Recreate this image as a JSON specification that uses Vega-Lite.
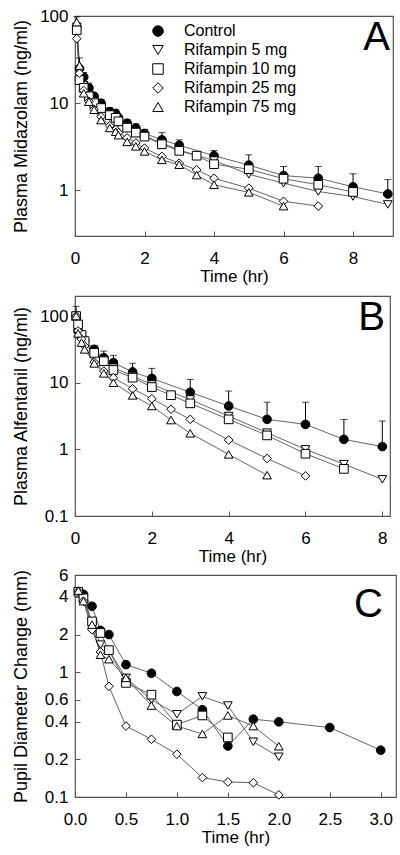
{
"$schema": "https://vega.github.io/schema/vega-lite/v6.json",
"padding": {"left": 11, "top": 6, "right": 0, "bottom": 0},
"config": {
  "font": "Liberation Sans",
  "view": {"stroke": "#555", "strokeWidth": 1.2},
  "style": {"guide-title": {"fontWeight": "normal"}},
  "axis": {"grid": false, "domain": false, "labelFlush": false, "tickSize": -5, "tickColor": "#555", "tickWidth": 1, "labelFontSize": 17, "labelColor": "#000", "titleFontSize": 18, "titleFontWeight": "normal", "titleColor": "#000", "labelFont": "Liberation Sans", "titleFont": "Liberation Sans"},
  "axisY": {"labelPadding": 12, "titlePadding": 9, "titleFontWeight": "normal"},
  "axisX": {"labelPadding": 19, "titlePadding": 2, "titleFontSize": 17, "titleFontWeight": "normal"}
},
"datasets": {
  "A": [
    {"s":"Control","t":0.05,"v":75,"e":98},{"s":"Control","t":0.13,"v":25,"e":33},{"s":"Control","t":0.25,"v":20,"e":22.5},{"s":"Control","t":0.4,"v":15,"e":17},{"s":"Control","t":0.55,"v":12,"e":13},{"s":"Control","t":0.75,"v":10,"e":11},{"s":"Control","t":1,"v":8,"e":8.9},{"s":"Control","t":1.17,"v":7.6,"e":8.5},{"s":"Control","t":1.25,"v":6.8,"e":7.5},{"s":"Control","t":1.5,"v":5.9,"e":6.5},{"s":"Control","t":1.75,"v":5.2,"e":5.8},{"s":"Control","t":2,"v":4.5,"e":5.0},{"s":"Control","t":2.5,"v":3.8,"e":4.6},{"s":"Control","t":3,"v":3.3,"e":3.8},{"s":"Control","t":4,"v":2.5,"e":2.87},{"s":"Control","t":5,"v":1.95,"e":2.56},{"s":"Control","t":6,"v":1.48,"e":1.88},{"s":"Control","t":7,"v":1.38,"e":1.88},{"s":"Control","t":8,"v":1.1,"e":1.55},{"s":"Control","t":9,"v":0.91,"e":1.33},
    {"s":"Rifampin 5 mg","t":0.05,"v":75},{"s":"Rifampin 5 mg","t":0.13,"v":23},{"s":"Rifampin 5 mg","t":0.25,"v":16},{"s":"Rifampin 5 mg","t":0.4,"v":12.5},{"s":"Rifampin 5 mg","t":0.55,"v":10.5},{"s":"Rifampin 5 mg","t":0.75,"v":8.6},{"s":"Rifampin 5 mg","t":1,"v":7.0},{"s":"Rifampin 5 mg","t":1.17,"v":6.5},{"s":"Rifampin 5 mg","t":1.25,"v":6.0},{"s":"Rifampin 5 mg","t":1.5,"v":5.2},{"s":"Rifampin 5 mg","t":1.75,"v":4.7},{"s":"Rifampin 5 mg","t":2,"v":4.2},{"s":"Rifampin 5 mg","t":2.5,"v":3.5},{"s":"Rifampin 5 mg","t":3,"v":2.9},{"s":"Rifampin 5 mg","t":4,"v":2.2},{"s":"Rifampin 5 mg","t":5,"v":1.53},{"s":"Rifampin 5 mg","t":6,"v":1.21},{"s":"Rifampin 5 mg","t":7,"v":0.97},{"s":"Rifampin 5 mg","t":8,"v":0.85},{"s":"Rifampin 5 mg","t":9,"v":0.69},
    {"s":"Rifampin 10 mg","t":0.05,"v":69},{"s":"Rifampin 10 mg","t":0.13,"v":18.4},{"s":"Rifampin 10 mg","t":0.25,"v":15},{"s":"Rifampin 10 mg","t":0.4,"v":12},{"s":"Rifampin 10 mg","t":0.55,"v":10},{"s":"Rifampin 10 mg","t":0.75,"v":8.8},{"s":"Rifampin 10 mg","t":1,"v":7.3},{"s":"Rifampin 10 mg","t":1.17,"v":6.8},{"s":"Rifampin 10 mg","t":1.25,"v":6.2},{"s":"Rifampin 10 mg","t":1.5,"v":5.25},{"s":"Rifampin 10 mg","t":1.75,"v":4.6},{"s":"Rifampin 10 mg","t":2,"v":4.14},{"s":"Rifampin 10 mg","t":2.5,"v":3.38},{"s":"Rifampin 10 mg","t":3,"v":2.84},{"s":"Rifampin 10 mg","t":3.5,"v":2.5},{"s":"Rifampin 10 mg","t":4,"v":2.0},{"s":"Rifampin 10 mg","t":5,"v":1.75},{"s":"Rifampin 10 mg","t":6,"v":1.36},{"s":"Rifampin 10 mg","t":7,"v":1.16},{"s":"Rifampin 10 mg","t":8,"v":0.96},
    {"s":"Rifampin 25 mg","t":0.05,"v":55},{"s":"Rifampin 25 mg","t":0.13,"v":22},{"s":"Rifampin 25 mg","t":0.25,"v":14},{"s":"Rifampin 25 mg","t":0.4,"v":10.5},{"s":"Rifampin 25 mg","t":0.55,"v":8.5},{"s":"Rifampin 25 mg","t":0.75,"v":7.0},{"s":"Rifampin 25 mg","t":1,"v":5.5},{"s":"Rifampin 25 mg","t":1.17,"v":5.0},{"s":"Rifampin 25 mg","t":1.25,"v":4.6},{"s":"Rifampin 25 mg","t":1.5,"v":4.0},{"s":"Rifampin 25 mg","t":1.75,"v":3.5},{"s":"Rifampin 25 mg","t":2,"v":3.05},{"s":"Rifampin 25 mg","t":2.5,"v":2.45},{"s":"Rifampin 25 mg","t":3,"v":2.05},{"s":"Rifampin 25 mg","t":3.5,"v":1.72},{"s":"Rifampin 25 mg","t":4,"v":1.38},{"s":"Rifampin 25 mg","t":5,"v":1.06},{"s":"Rifampin 25 mg","t":6,"v":0.75},{"s":"Rifampin 25 mg","t":7,"v":0.66},
    {"s":"Rifampin 75 mg","t":0.05,"v":85},{"s":"Rifampin 75 mg","t":0.13,"v":27},{"s":"Rifampin 75 mg","t":0.25,"v":13},{"s":"Rifampin 75 mg","t":0.4,"v":10.4},{"s":"Rifampin 75 mg","t":0.55,"v":8.4},{"s":"Rifampin 75 mg","t":0.75,"v":6.4},{"s":"Rifampin 75 mg","t":1,"v":5.2},{"s":"Rifampin 75 mg","t":1.17,"v":4.7},{"s":"Rifampin 75 mg","t":1.25,"v":4.3},{"s":"Rifampin 75 mg","t":1.5,"v":3.6},{"s":"Rifampin 75 mg","t":1.75,"v":3.2},{"s":"Rifampin 75 mg","t":2,"v":2.8},{"s":"Rifampin 75 mg","t":2.5,"v":2.24},{"s":"Rifampin 75 mg","t":3,"v":1.97},{"s":"Rifampin 75 mg","t":3.5,"v":1.5},{"s":"Rifampin 75 mg","t":4,"v":1.16},{"s":"Rifampin 75 mg","t":5,"v":0.95},{"s":"Rifampin 75 mg","t":6,"v":0.66}
  ],
  "B": [
    {"s":"Control","t":0.03,"v":100,"e":140},{"s":"Control","t":0.08,"v":60},{"s":"Control","t":0.17,"v":50},{"s":"Control","t":0.25,"v":42},{"s":"Control","t":0.5,"v":31.6,"e":36.3},{"s":"Control","t":0.75,"v":23.7,"e":29.8},{"s":"Control","t":1,"v":20,"e":25.7},{"s":"Control","t":1.5,"v":14.5,"e":19.6},{"s":"Control","t":2,"v":11.6,"e":16.4},{"s":"Control","t":3,"v":7.2,"e":11.2},{"s":"Control","t":4,"v":4.47,"e":7.5},{"s":"Control","t":5,"v":2.82,"e":5.1},{"s":"Control","t":6,"v":2.37,"e":5.1},{"s":"Control","t":7,"v":1.41,"e":2.8},{"s":"Control","t":8,"v":1.1,"e":2.66},
    {"s":"Rifampin 5 mg","t":0.03,"v":100},{"s":"Rifampin 5 mg","t":0.08,"v":75},{"s":"Rifampin 5 mg","t":0.17,"v":50},{"s":"Rifampin 5 mg","t":0.25,"v":38},{"s":"Rifampin 5 mg","t":0.5,"v":29},{"s":"Rifampin 5 mg","t":0.75,"v":22},{"s":"Rifampin 5 mg","t":1,"v":16.8},{"s":"Rifampin 5 mg","t":1.5,"v":12.6},{"s":"Rifampin 5 mg","t":2,"v":9.4},{"s":"Rifampin 5 mg","t":3,"v":5.6},{"s":"Rifampin 5 mg","t":4,"v":3.16},{"s":"Rifampin 5 mg","t":5,"v":1.78},{"s":"Rifampin 5 mg","t":6,"v":1.0},{"s":"Rifampin 5 mg","t":7,"v":0.6},{"s":"Rifampin 5 mg","t":8,"v":0.355},
    {"s":"Rifampin 10 mg","t":0.03,"v":100},{"s":"Rifampin 10 mg","t":0.08,"v":75},{"s":"Rifampin 10 mg","t":0.17,"v":52},{"s":"Rifampin 10 mg","t":0.25,"v":42},{"s":"Rifampin 10 mg","t":0.5,"v":28},{"s":"Rifampin 10 mg","t":0.75,"v":21},{"s":"Rifampin 10 mg","t":1,"v":15.5},{"s":"Rifampin 10 mg","t":1.5,"v":11.9},{"s":"Rifampin 10 mg","t":2,"v":8.6},{"s":"Rifampin 10 mg","t":2.5,"v":6.5},{"s":"Rifampin 10 mg","t":3,"v":4.9},{"s":"Rifampin 10 mg","t":4,"v":2.82},{"s":"Rifampin 10 mg","t":5,"v":1.62},{"s":"Rifampin 10 mg","t":6,"v":0.86},{"s":"Rifampin 10 mg","t":7,"v":0.51},
    {"s":"Rifampin 25 mg","t":0.03,"v":100},{"s":"Rifampin 25 mg","t":0.08,"v":60},{"s":"Rifampin 25 mg","t":0.17,"v":45},{"s":"Rifampin 25 mg","t":0.25,"v":35.5},{"s":"Rifampin 25 mg","t":0.5,"v":20.4},{"s":"Rifampin 25 mg","t":0.75,"v":14.9},{"s":"Rifampin 25 mg","t":1,"v":11.9},{"s":"Rifampin 25 mg","t":1.5,"v":8.1},{"s":"Rifampin 25 mg","t":2,"v":5.75},{"s":"Rifampin 25 mg","t":2.5,"v":4.0},{"s":"Rifampin 25 mg","t":3,"v":2.82},{"s":"Rifampin 25 mg","t":4,"v":1.38},{"s":"Rifampin 25 mg","t":5,"v":0.73},{"s":"Rifampin 25 mg","t":6,"v":0.4},
    {"s":"Rifampin 75 mg","t":0.03,"v":100},{"s":"Rifampin 75 mg","t":0.08,"v":55},{"s":"Rifampin 75 mg","t":0.17,"v":40},{"s":"Rifampin 75 mg","t":0.25,"v":31.6},{"s":"Rifampin 75 mg","t":0.5,"v":19.5},{"s":"Rifampin 75 mg","t":0.75,"v":13.8},{"s":"Rifampin 75 mg","t":1,"v":10},{"s":"Rifampin 75 mg","t":1.5,"v":6.45},{"s":"Rifampin 75 mg","t":2,"v":4.47},{"s":"Rifampin 75 mg","t":2.5,"v":2.75},{"s":"Rifampin 75 mg","t":3,"v":1.74},{"s":"Rifampin 75 mg","t":4,"v":0.84},{"s":"Rifampin 75 mg","t":5,"v":0.41}
  ],
  "C": [
    {"s":"Control","t":0.083,"v":4.2},{"s":"Control","t":0.167,"v":3.37},{"s":"Control","t":0.25,"v":2.16},{"s":"Control","t":0.333,"v":2.0},{"s":"Control","t":0.5,"v":1.15},{"s":"Control","t":0.75,"v":0.98},{"s":"Control","t":1,"v":0.7},{"s":"Control","t":1.25,"v":0.5},{"s":"Control","t":1.5,"v":0.256},{"s":"Control","t":1.75,"v":0.42},{"s":"Control","t":2,"v":0.4},{"s":"Control","t":2.5,"v":0.36},{"s":"Control","t":3,"v":0.237},
    {"s":"Rifampin 5 mg","t":0.033,"v":4.4},{"s":"Rifampin 5 mg","t":0.083,"v":3.9},{"s":"Rifampin 5 mg","t":0.167,"v":2.5},{"s":"Rifampin 5 mg","t":0.25,"v":1.66},{"s":"Rifampin 5 mg","t":0.333,"v":1.5},{"s":"Rifampin 5 mg","t":0.5,"v":0.9},{"s":"Rifampin 5 mg","t":0.75,"v":0.6},{"s":"Rifampin 5 mg","t":1,"v":0.46},{"s":"Rifampin 5 mg","t":1.25,"v":0.64},{"s":"Rifampin 5 mg","t":1.5,"v":0.54},{"s":"Rifampin 5 mg","t":1.75,"v":0.277},{"s":"Rifampin 5 mg","t":2,"v":0.21},
    {"s":"Rifampin 10 mg","t":0.033,"v":4.4},{"s":"Rifampin 10 mg","t":0.083,"v":3.9},{"s":"Rifampin 10 mg","t":0.167,"v":2.55},{"s":"Rifampin 10 mg","t":0.25,"v":2.06},{"s":"Rifampin 10 mg","t":0.333,"v":1.5},{"s":"Rifampin 10 mg","t":0.5,"v":0.82},{"s":"Rifampin 10 mg","t":0.75,"v":0.66},{"s":"Rifampin 10 mg","t":1,"v":0.38},{"s":"Rifampin 10 mg","t":1.25,"v":0.45},{"s":"Rifampin 10 mg","t":1.5,"v":0.3},
    {"s":"Rifampin 25 mg","t":0.033,"v":4.45},{"s":"Rifampin 25 mg","t":0.083,"v":3.7},{"s":"Rifampin 25 mg","t":0.167,"v":2.19},{"s":"Rifampin 25 mg","t":0.25,"v":1.45},{"s":"Rifampin 25 mg","t":0.333,"v":0.77},{"s":"Rifampin 25 mg","t":0.5,"v":0.37},{"s":"Rifampin 25 mg","t":0.75,"v":0.29},{"s":"Rifampin 25 mg","t":1,"v":0.22},{"s":"Rifampin 25 mg","t":1.25,"v":0.143},{"s":"Rifampin 25 mg","t":1.5,"v":0.132},{"s":"Rifampin 25 mg","t":1.75,"v":0.13},{"s":"Rifampin 25 mg","t":2,"v":0.104},
    {"s":"Rifampin 75 mg","t":0.033,"v":4.5},{"s":"Rifampin 75 mg","t":0.083,"v":3.7},{"s":"Rifampin 75 mg","t":0.167,"v":2.4},{"s":"Rifampin 75 mg","t":0.25,"v":1.38},{"s":"Rifampin 75 mg","t":0.333,"v":1.27},{"s":"Rifampin 75 mg","t":0.5,"v":0.9},{"s":"Rifampin 75 mg","t":0.75,"v":0.54},{"s":"Rifampin 75 mg","t":1,"v":0.37},{"s":"Rifampin 75 mg","t":1.25,"v":0.32},{"s":"Rifampin 75 mg","t":1.5,"v":0.45},{"s":"Rifampin 75 mg","t":1.75,"v":0.37},{"s":"Rifampin 75 mg","t":2,"v":0.255}
  ],
  "LA": [{"t":9.15,"v":100,"L":"A"}],
  "LB": [{"t":8.2,"v":200,"L":"B"}],
  "LC": [{"t":3.15,"v":6,"L":"C"}]
},
"spacing": 10,
"vconcat": [
  {
    "width": 318, "height": 220,
    "data": {"name": "A"},
    "encoding": {
      "x": {"field": "t", "type": "quantitative", "scale": {"domain": [0, 9.15], "nice": false, "zero": false}, "axis": {"values": [0, 2, 4, 6, 8], "title": "Time (hr)", "titleFontWeight": "normal", "labelFlush": false}},
      "y": {"field": "v", "type": "quantitative", "scale": {"type": "log", "domain": [0.3, 100], "nice": false}, "axis": {"values": [1, 10, 100], "format": "~g", "title": "Plasma Midazolam (ng/ml)", "titleFontWeight": "normal", "labelFlush": false, "minExtent": 36, "maxExtent": 36}}
    },
    "layer": [
      {"mark": {"type": "line", "color": "#555", "strokeWidth": 0.9}, "encoding": {"detail": {"field": "s"}}},
      {"transform": [{"filter": "datum.e != null"}], "mark": {"type": "rule", "color": "#000", "strokeWidth": 1}, "encoding": {"y2": {"field": "e"}}},
      {"transform": [{"filter": "datum.e != null"}], "mark": {"type": "tick", "orient": "horizontal", "color": "#000", "size": 7, "thickness": 1}, "encoding": {"y": {"field": "e", "type": "quantitative", "title": "Plasma Midazolam (ng/ml)"}}},
      {"mark": {"type": "point", "filled": true, "strokeWidth": 1, "size": 75, "opacity": 1},
       "encoding": {
         "shape": {"field": "s", "type": "nominal", "scale": {"domain": ["Control", "Rifampin 5 mg", "Rifampin 10 mg", "Rifampin 25 mg", "Rifampin 75 mg"], "range": ["circle", "triangle-down", "square", "diamond", "triangle-up"]},
           "legend": {"title": null, "orient": "none", "legendX": 75, "legendY": 7, "labelFontSize": 16, "labelColor": "#000", "symbolSize": 110, "symbolStrokeWidth": 1, "labelOffset": 18, "rowPadding": 3}},
         "fill": {"field": "s", "type": "nominal", "scale": {"domain": ["Control", "Rifampin 5 mg", "Rifampin 10 mg", "Rifampin 25 mg", "Rifampin 75 mg"], "range": ["#000", "#fff", "#fff", "#fff", "#fff"]},
           "legend": {"title": null, "orient": "none", "legendX": 75, "legendY": 7, "labelFontSize": 16, "labelColor": "#000", "symbolSize": 110, "symbolStrokeWidth": 1, "labelOffset": 18, "rowPadding": 3}},
         "stroke": {"field": "s", "type": "nominal", "scale": {"domain": ["Control", "Rifampin 5 mg", "Rifampin 10 mg", "Rifampin 25 mg", "Rifampin 75 mg"], "range": ["#000", "#000", "#000", "#000", "#000"]},
           "legend": {"title": null, "orient": "none", "legendX": 75, "legendY": 7, "labelFontSize": 16, "labelColor": "#000", "symbolSize": 110, "symbolStrokeWidth": 1, "labelOffset": 18, "rowPadding": 3}}
       }},
      {"data": {"name": "LA"}, "mark": {"type": "text", "fontSize": 40, "align": "right", "baseline": "alphabetic", "dx": -3, "dy": 34, "color": "#000"}, "encoding": {"text": {"field": "L"}}}
    ]
  },
  {
    "spacing": 0,
    "vconcat": [
      {
        "width": 315, "height": 220,
        "data": {"name": "B"},
        "encoding": {
          "x": {"field": "t", "type": "quantitative", "scale": {"domain": [0, 8.2], "nice": false, "zero": false}, "axis": {"values": [0, 2, 4, 6, 8], "title": "Time (hr)", "titleFontWeight": "normal", "labelFlush": false}},
          "y": {"field": "v", "type": "quantitative", "scale": {"type": "log", "domain": [0.1, 200], "nice": false}, "axis": {"values": [0.1, 1, 10, 100], "format": "~g", "title": "Plasma Alfentanil (ng/ml)", "titleFontWeight": "normal", "labelFlush": false, "minExtent": 36, "maxExtent": 36}}
        },
        "layer": [
          {"mark": {"type": "line", "color": "#555", "strokeWidth": 0.9}, "encoding": {"detail": {"field": "s"}}},
          {"transform": [{"filter": "datum.e != null"}], "mark": {"type": "rule", "color": "#000", "strokeWidth": 1}, "encoding": {"y2": {"field": "e"}}},
          {"transform": [{"filter": "datum.e != null"}], "mark": {"type": "tick", "orient": "horizontal", "color": "#000", "size": 7, "thickness": 1}, "encoding": {"y": {"field": "e", "type": "quantitative", "title": "Plasma Alfentanil (ng/ml)"}}},
          {"mark": {"type": "point", "filled": true, "stroke": "#000", "strokeWidth": 1, "size": 75, "opacity": 1},
           "encoding": {
             "shape": {"field": "s", "type": "nominal", "scale": {"domain": ["Control", "Rifampin 5 mg", "Rifampin 10 mg", "Rifampin 25 mg", "Rifampin 75 mg"], "range": ["circle", "triangle-down", "square", "diamond", "triangle-up"]}, "legend": null},
             "fill": {"field": "s", "type": "nominal", "scale": {"domain": ["Control", "Rifampin 5 mg", "Rifampin 10 mg", "Rifampin 25 mg", "Rifampin 75 mg"], "range": ["#000", "#fff", "#fff", "#fff", "#fff"]}, "legend": null}
           }},
          {"data": {"name": "LB"}, "mark": {"type": "text", "fontSize": 40, "align": "right", "baseline": "alphabetic", "dx": -5, "dy": 34, "color": "#000"}, "encoding": {"text": {"field": "L"}}}
        ]
      },
      {
        "width": 321, "height": 222,
        "data": {"name": "C"},
        "encoding": {
          "x": {"field": "t", "type": "quantitative", "scale": {"domain": [0, 3.15], "nice": false, "zero": false}, "axis": {"values": [0, 0.5, 1, 1.5, 2, 2.5, 3], "format": ".1f", "title": "Time (hr)", "titleFontWeight": "normal", "labelFlush": false}},
          "y": {"field": "v", "type": "quantitative", "scale": {"type": "log", "domain": [0.1, 6], "nice": false}, "axis": {"values": [0.1, 0.2, 0.4, 0.6, 1, 2, 4, 6], "format": "~g", "title": "Pupil Diameter Change (mm)", "titleFontWeight": "normal", "labelFlush": false, "minExtent": 36, "maxExtent": 36}}
        },
        "layer": [
          {"mark": {"type": "line", "color": "#555", "strokeWidth": 0.9}, "encoding": {"detail": {"field": "s"}}},
          {"mark": {"type": "point", "filled": true, "stroke": "#000", "strokeWidth": 1, "size": 75, "opacity": 1},
           "encoding": {
             "shape": {"field": "s", "type": "nominal", "scale": {"domain": ["Control", "Rifampin 5 mg", "Rifampin 10 mg", "Rifampin 25 mg", "Rifampin 75 mg"], "range": ["circle", "triangle-down", "square", "diamond", "triangle-up"]}, "legend": null},
             "fill": {"field": "s", "type": "nominal", "scale": {"domain": ["Control", "Rifampin 5 mg", "Rifampin 10 mg", "Rifampin 25 mg", "Rifampin 75 mg"], "range": ["#000", "#fff", "#fff", "#fff", "#fff"]}, "legend": null}
           }},
          {"data": {"name": "LC"}, "mark": {"type": "text", "fontSize": 40, "align": "right", "baseline": "alphabetic", "dx": -13, "dy": 42, "color": "#000"}, "encoding": {"text": {"field": "L"}}}
        ]
      }
    ]
  }
]
}
